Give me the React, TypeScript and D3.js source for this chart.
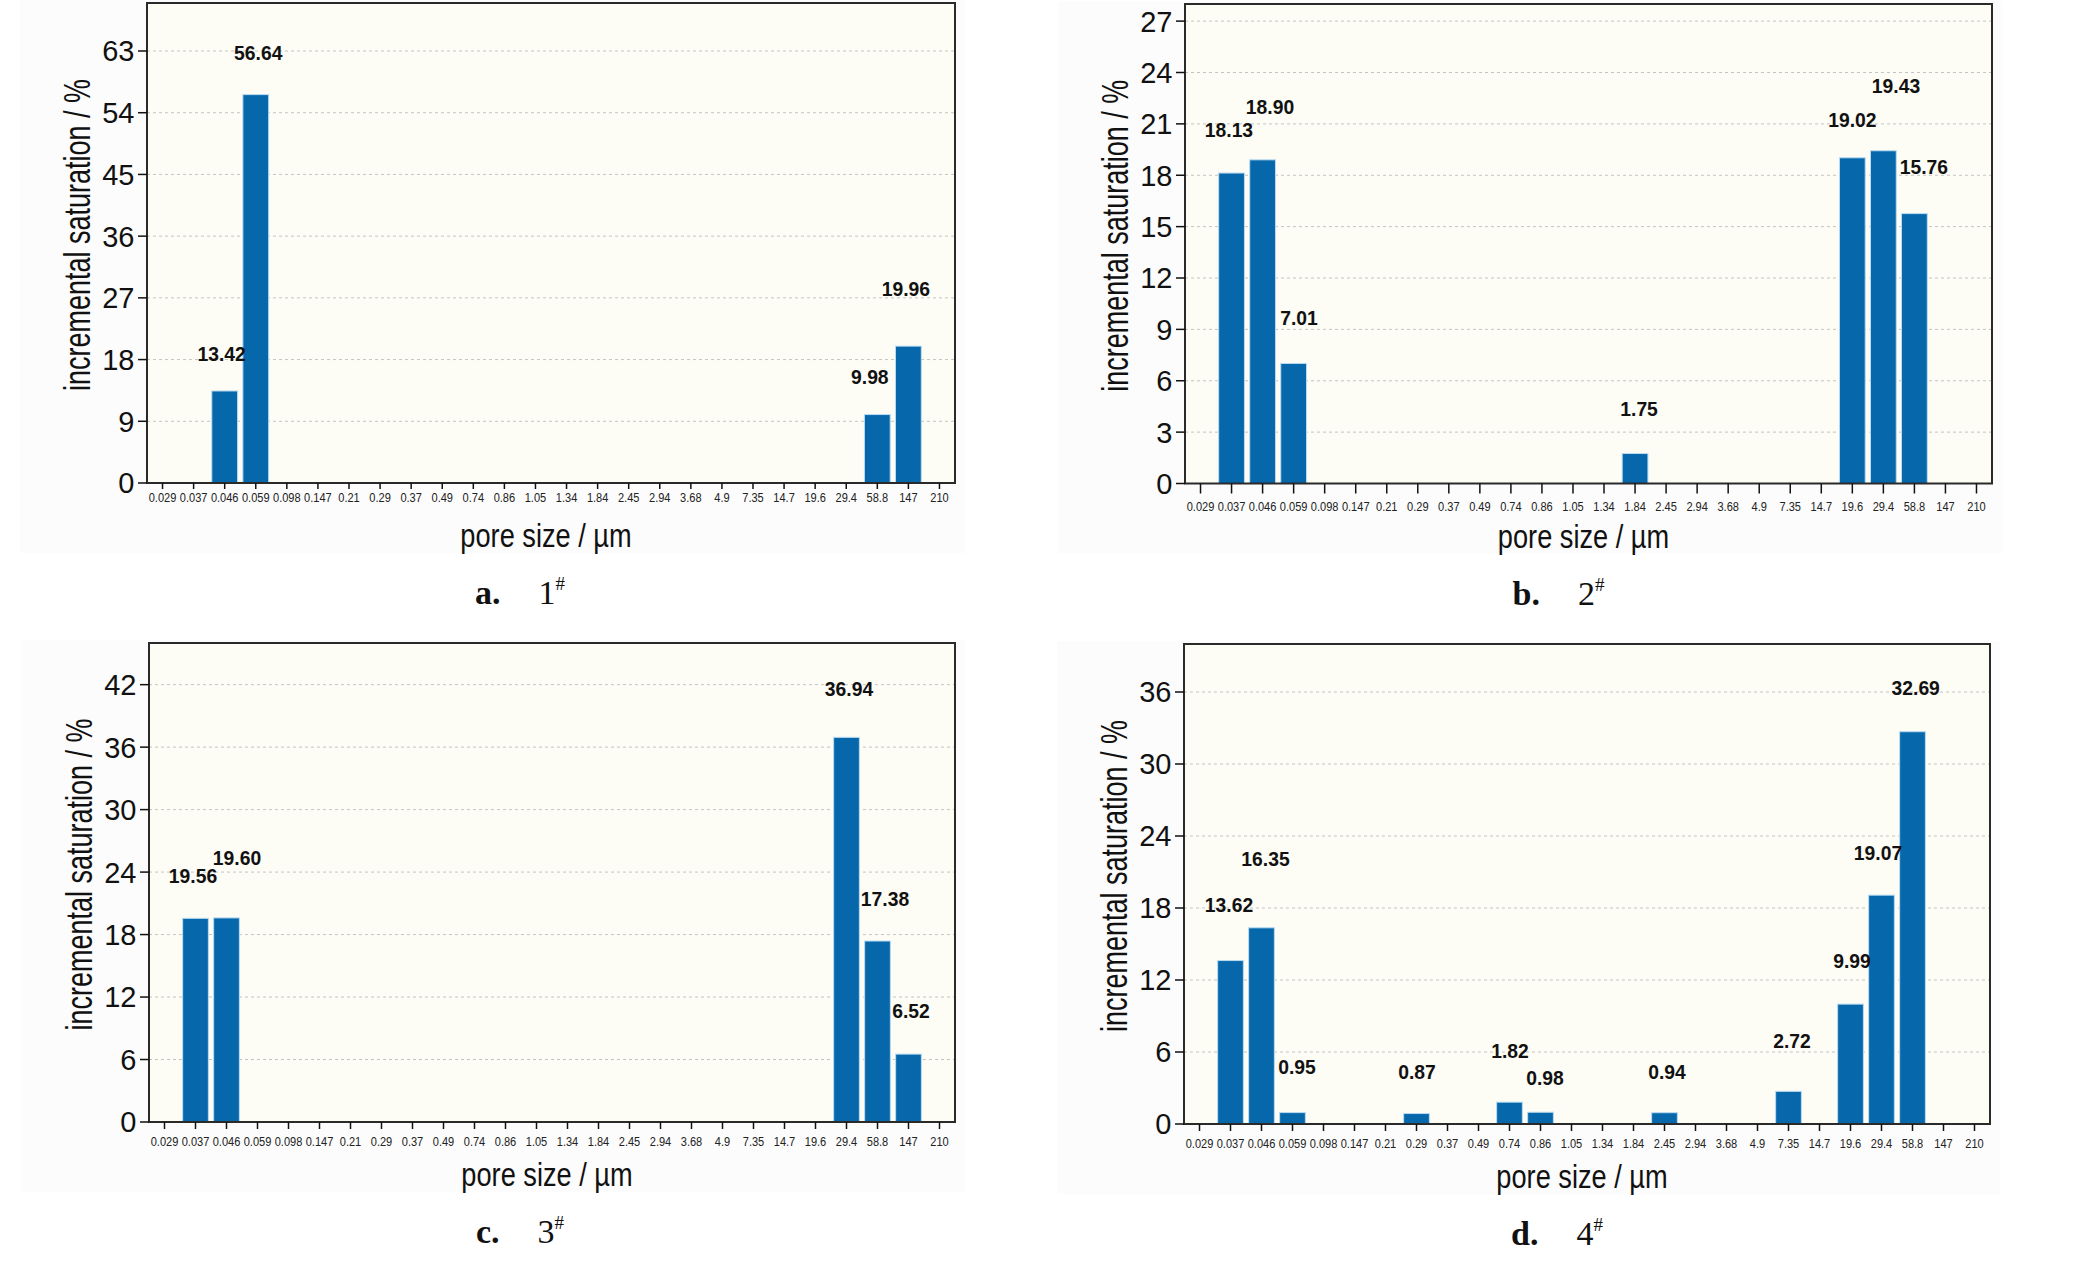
import React, { useEffect } from "react";
import * as d3 from "d3";

// ---------- data ----------
const categories = [
  "0.029", "0.037", "0.046", "0.059", "0.098", "0.147", "0.21", "0.29", "0.37", "0.49",
  "0.74", "0.86", "1.05", "1.34", "1.84", "2.45", "2.94", "3.68", "4.9", "7.35",
  "14.7", "19.6", "29.4", "58.8", "147", "210",
];

const sizesA = ["0.046", "0.059", "58.8", "147"];
const valuesA = [13.42, 56.64, 9.98, 19.96];
const yTicksA = [0, 9, 18, 27, 36, 45, 54, 63];

const sizesB = ["0.037", "0.046", "0.059", "1.84", "19.6", "29.4", "58.8"];
const valuesB = [18.13, 18.9, 7.01, 1.75, 19.02, 19.43, 15.76];
const yTicksB = [0, 3, 6, 9, 12, 15, 18, 21, 24, 27];

const sizesC = ["0.037", "0.046", "29.4", "58.8", "147"];
const valuesC = [19.56, 19.6, 36.94, 17.38, 6.52];
const yTicksC = [0, 6, 12, 18, 24, 30, 36, 42];

const sizesD = ["0.037", "0.046", "0.059", "0.29", "0.74", "0.86", "2.45", "7.35", "19.6", "29.4", "58.8"];
const valuesD = [13.62, 16.35, 0.95, 0.87, 1.82, 0.98, 0.94, 2.72, 9.99, 19.07, 32.69];
const yTicksD = [0, 6, 12, 18, 24, 30, 36];

const captions = [
  { letter: "a.", num: "1" },
  { letter: "b.", num: "2" },
  { letter: "c.", num: "3" },
  { letter: "d.", num: "4" },
];

const yTitle = "incremental saturation / %";
const xTitle = "pore size / \u00b5m";

// ---------- label nudges (px, relative to default spot above bar) ----------
const nudgeA = [[-3, 6], [2.5, 2], [-7.5, 5.5], [-2.5, -14]];
const nudgeB = [[-2.6, 0], [7.4, -9], [5.4, -2], [4, -1], [0, 6], [12.6, -21.5], [9.5, -3]];
const nudgeC = [[-2.5, 1], [10.5, -16], [2.5, -4.5], [7.5, 1], [2.5, 0]];
const nudgeD = [[-1.5, -12.6], [4, -25], [4.5, -2.6], [0.5, 1.4], [0.5, -7.7], [4.5, 9], [2.5, 2.3], [3.5, -6.7], [1.5, 0], [-3.5, 1.3], [3.2, 0]];

// ---------- layout ----------
const layouts = [
  { left: 147, right: 955, top: 3, bottom: 483, max: 70, tickLen: 6, labOff: 14.5 },
  { left: 1185, right: 1992, top: 4, bottom: 483.5, max: 28, tickLen: 10, labOff: 23 },
  { left: 149, right: 955, top: 643, bottom: 1122, max: 46, tickLen: 7, labOff: 19 },
  { left: 1184, right: 1990, top: 644, bottom: 1124, max: 40, tickLen: 7, labOff: 19 },
];

const panels = [
  { sizes: sizesA, values: valuesA, yTicks: yTicksA, nudges: nudgeA },
  { sizes: sizesB, values: valuesB, yTicks: yTicksB, nudges: nudgeB },
  { sizes: sizesC, values: valuesC, yTicks: yTicksC, nudges: nudgeC },
  { sizes: sizesD, values: valuesD, yTicks: yTicksD, nudges: nudgeD },
];

const SANS = "'Liberation Sans', Arial, Helvetica, sans-serif";
const SERIF = "'Liberation Serif', 'Times New Roman', serif";
const BAR = "#0767ab";

function Panel({ idx }: { idx: number }) {
  const L = layouts[idx];
  const P = panels[idx];
  const cap = captions[idx];
  const x = d3
    .scaleBand<string>()
    .domain(categories)
    .range([L.left, L.right])
    .paddingInner(0.17)
    .paddingOuter(0.085);
  const y = d3.scaleLinear().domain([0, L.max]).range([L.bottom, L.top]);
  const bw = x.bandwidth();
  const cx = (c: string) => (x(c) as number) + bw / 2;
  const midX = (L.left + L.right) / 2;
  const midY = (L.top + L.bottom) / 2;

  return (
    <g>
      {/* faint export background */}
      <rect x={L.left - 127} y={L.top - 3} width={L.right - L.left + 137} height={L.bottom - L.top + 73} fill="#fcfcfc" />
      {/* plot area */}
      <rect x={L.left} y={L.top} width={L.right - L.left} height={L.bottom - L.top} fill="#fdfcf5" />
      {/* gridlines */}
      {P.yTicks.filter((t) => t > 0).map((t) => (
        <line key={"g" + t} x1={L.left} x2={L.right} y1={y(t)} y2={y(t)} stroke="#c4c4c4" strokeWidth={1} strokeDasharray="3,3" />
      ))}
      {/* bars */}
      {P.sizes.map((s, i) => (
        <rect
          key={"b" + i}
          x={x(s) as number}
          y={y(P.values[i])}
          width={bw}
          height={L.bottom - y(P.values[i])}
          fill={BAR}
          stroke="#b9dcf2"
          strokeWidth={1}
        />
      ))}
      {/* frame */}
      <rect x={L.left} y={L.top} width={L.right - L.left} height={L.bottom - L.top} fill="none" stroke="#2a2a2a" strokeWidth={2} />
      {/* y ticks */}
      {P.yTicks.map((t) => (
        <g key={"y" + t}>
          <line x1={L.left - 9} x2={L.left} y1={y(t)} y2={y(t)} stroke="#111" strokeWidth={1.5} />
          <text x={L.left - 12.5} y={y(t)} dy="0.36em" textAnchor="end" fontFamily={SANS} fontSize={29} fill="#111">
            {t}
          </text>
        </g>
      ))}
      {/* x ticks */}
      {categories.map((c) => (
        <g key={"x" + c}>
          <line x1={cx(c)} x2={cx(c)} y1={L.bottom} y2={L.bottom + L.tickLen} stroke="#111" strokeWidth={1.5} />
          <text
            transform={`translate(${cx(c)},${L.bottom + L.labOff}) scale(0.85,1)`}
            dy="0.36em"
            textAnchor="middle"
            fontFamily={SANS}
            fontSize={13}
            fill="#222"
          >
            {c}
          </text>
        </g>
      ))}
      {/* value labels */}
      {P.sizes.map((s, i) => (
        <text
          key={"v" + i}
          transform={`translate(${cx(s) + P.nudges[i][0]},${y(P.values[i]) - 44 + P.nudges[i][1]}) scale(0.92,1)`}
          dy="0.36em"
          textAnchor="middle"
          fontFamily={SANS}
          fontWeight="bold"
          fontSize={21}
          fill="#111"
        >
          {P.values[i].toFixed(2)}
        </text>
      ))}
      {/* axis titles */}
      <text
        transform={`translate(${L.left - 70},${midY - 8}) rotate(-90) scale(0.75,1)`}
        dy="0.36em"
        textAnchor="middle"
        fontFamily={SANS}
        fontSize={36}
        fill="#111"
      >
        {yTitle}
      </text>
      <text
        transform={`translate(${midX - 5},${L.bottom + 52}) scale(0.8,1)`}
        dy="0.36em"
        textAnchor="middle"
        fontFamily={SANS}
        fontSize={34}
        fill="#111"
      >
        {xTitle}
      </text>
      {/* caption */}
      <text x={midX - 76} y={L.bottom + 121} fontFamily={SERIF} fontSize={34} fill="#111">
        <tspan fontWeight="bold">{cap.letter}</tspan>
        <tspan dx={38}>{cap.num}</tspan>
        <tspan dy={-14} fontSize={19}>#</tspan>
      </text>
    </g>
  );
}

export default function App() {
  useEffect(() => {
    document.body.style.margin = "0";
    document.body.style.background = "#ffffff";
  }, []);
  return (
    <svg width={2074} height={1275} viewBox="0 0 2074 1275" style={{ display: "block", background: "#ffffff" }}>
      {[0, 1, 2, 3].map((i) => (
        <Panel key={i} idx={i} />
      ))}
    </svg>
  );
}
